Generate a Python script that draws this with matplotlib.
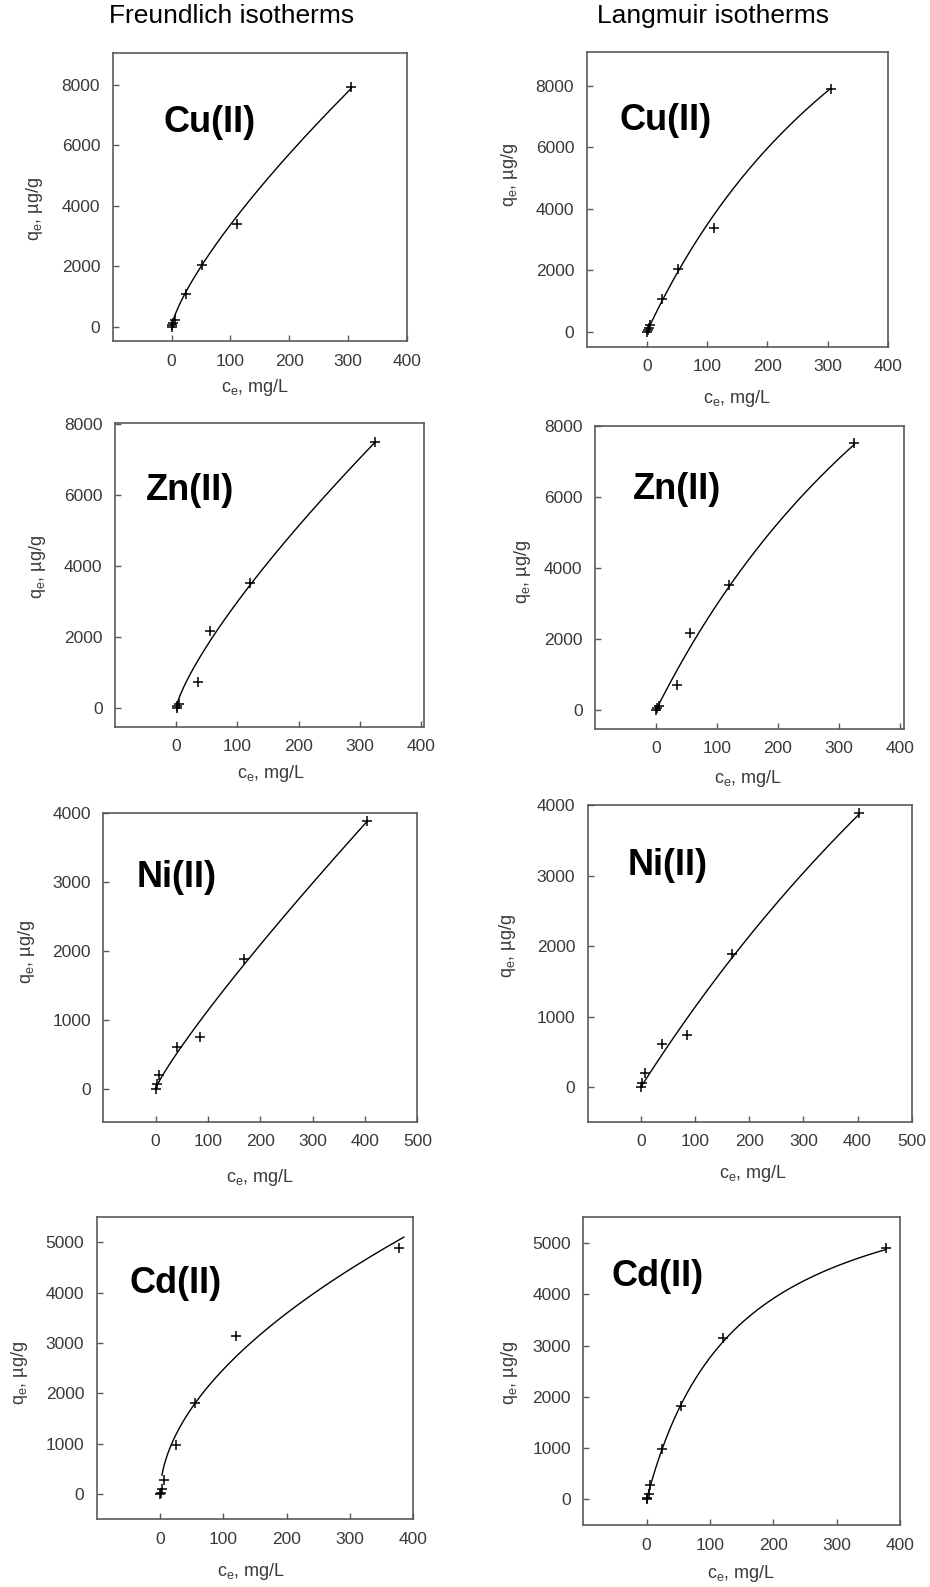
import numpy as np
import matplotlib
matplotlib.use("Agg")
import matplotlib.pyplot as plt

plt.rcParams['font.family'] = ['Liberation Sans', 'DejaVu Sans']
plt.rcParams['mathtext.fontset'] = 'custom'
plt.rcParams['mathtext.rm'] = 'Liberation Sans'
plt.rcParams['mathtext.it'] = 'Liberation Sans:italic'

# ---------------- data ----------------
metals = ['Cu(II)', 'Zn(II)', 'Ni(II)', 'Cd(II)']
column_titles = ['Freundlich isotherms', 'Langmuir isotherms']

cu_ce = [0.2, 1, 3, 5, 25, 51, 111, 305]
cu_qe = [0, 50, 120, 220, 1080, 2040, 3390, 7920]

zn_ce = [0.5, 2, 5, 35, 55, 120, 325]
zn_qe = [0, 50, 100, 710, 2160, 3520, 7500]

ni_ce = [0.5, 2, 7, 40, 85, 169, 403]
ni_qe = [0, 60, 195, 608, 742, 1882, 3885]

cd_ce = [0.3, 1, 3, 6, 25, 55, 120, 378]
cd_qe = [0, 30, 110, 285, 980, 1820, 3145, 4900]

# fitted isotherm parameters
freundlich_KF = [102, 82.4, 19.7, 210]
freundlich_inv_n = [0.76, 0.78, 0.88, 0.536]
freundlich_c_range = [(0.5, 305), (0.5, 325), (0.5, 403), (3, 385)]

langmuir_qmax = [20900, 22800, 19040, 6714]
langmuir_KL = [0.002, 0.0015, 0.000633, 0.007]
langmuir_c_range = [(0, 305), (0, 325), (0, 403), (0, 378)]

y_ticks = [[0, 2000, 4000, 6000, 8000], [0, 2000, 4000, 6000, 8000],
           [0, 1000, 2000, 3000, 4000], [0, 1000, 2000, 3000, 4000, 5000]]
x_ticks = [[0, 100, 200, 300, 400], [0, 100, 200, 300, 400],
           [0, 100, 200, 300, 400, 500], [0, 100, 200, 300, 400]]

ce_data = [cu_ce, zn_ce, ni_ce, cd_ce]
qe_data = [cu_qe, zn_qe, ni_qe, cd_qe]

# ---------------- layout ----------------
W, H = 930, 1587
fig = plt.figure(figsize=(W / 100, H / 100), dpi=100)

# (left, right, top, bottom) in pixels, [row][col]
boxes = [
    [(112.7, 407, 53, 341), (586.7, 887.7, 52.3, 346.7)],
    [(115, 424.3, 423.3, 726.7), (595, 903.7, 425.7, 729)],
    [(103.3, 417.3, 812.7, 1121.7), (587.7, 911.7, 805, 1121.7)],
    [(96.7, 413.3, 1217.3, 1519.3), (583.3, 900, 1217.3, 1525)],
]
xlims = [[(-100, 400), (-100, 400)], [(-100, 405), (-100, 406)],
         [(-100, 500), (-98, 497)], [(-100, 400), (-100, 400)]]
ylims = [[(-470, 9060), (-490, 9100)], [(-540, 8030), (-535, 8000)],
         [(-480, 4000), (-490, 4000)], [(-500, 5500), (-500, 5500)]]
label_pos = [[(0.171, 0.757), (0.11, 0.77)], [(0.10, 0.78), (0.124, 0.79)],
             [(0.106, 0.79), (0.122, 0.81)], [(0.105, 0.78), (0.09, 0.807)]]
ylab_pos = [[(-0.23, 0.46), (-0.22, 0.583)], [(-0.216, 0.527), (-0.20, 0.517)],
            [(-0.212, 0.55), (-0.214, 0.556)], [(-0.21, 0.483), (-0.20, 0.493)]]
xlab_pos = [[(0.483, -0.125), (0.498, -0.139)], [(0.504, -0.119), (0.497, -0.13)],
            [(0.50, -0.146), (0.509, -0.131)], [(0.487, -0.138), (0.497, -0.124)]]

spine_col = '#5a5a5a'
text_col = '#3a3a3a'

for r in range(4):
    for col in range(2):
        l, rr, t, b = boxes[r][col]
        ax = fig.add_axes([l / W, 1 - b / H, (rr - l) / W, (b - t) / H])
        ce = np.array(ce_data[r], dtype=float)
        qe = np.array(qe_data[r], dtype=float)
        if col == 0:
            c0, c1 = freundlich_c_range[r]
            cc = np.linspace(c0, c1, 400)
            qq = freundlich_KF[r] * cc ** freundlich_inv_n[r]
        else:
            c0, c1 = langmuir_c_range[r]
            cc = np.linspace(c0, c1, 400)
            qq = langmuir_qmax[r] * langmuir_KL[r] * cc / (1 + langmuir_KL[r] * cc)
        ax.plot(cc, qq, color='black', lw=1.0, zorder=2)
        ax.plot(ce, qe, linestyle='none', marker='+', color='black',
                markersize=7, markeredgewidth=1.1, zorder=3)
        ax.set_xlim(*xlims[r][col])
        ax.set_ylim(*ylims[r][col])
        ax.set_xticks(x_ticks[r])
        ax.set_yticks(y_ticks[r])
        ax.tick_params(direction='in', length=4, width=1, color=spine_col,
                       labelsize=12.5, labelcolor=text_col, pad=9)
        for s in ax.spines.values():
            s.set_color(spine_col)
            s.set_linewidth(1.2)
        ax.set_xlabel(r'c$_{\mathrm{e}}$, mg/L', fontsize=13, color=text_col)
        ax.set_ylabel(r'q$_{\mathrm{e}}$, µg/g', fontsize=13, color=text_col)
        ax.xaxis.set_label_coords(*xlab_pos[r][col])
        ax.yaxis.set_label_coords(*ylab_pos[r][col])
        lx, ly = label_pos[r][col]
        ax.text(lx, ly, metals[r], transform=ax.transAxes, fontsize=26,
                fontweight='bold', ha='left', va='center', color='black')

fig.text(232 / W, 1 - 16 / H, column_titles[0], fontsize=19, ha='center', va='center')
fig.text(713 / W, 1 - 16 / H, column_titles[1], fontsize=19, ha='center', va='center')

fig.savefig('out.png', dpi=100, facecolor='white')
